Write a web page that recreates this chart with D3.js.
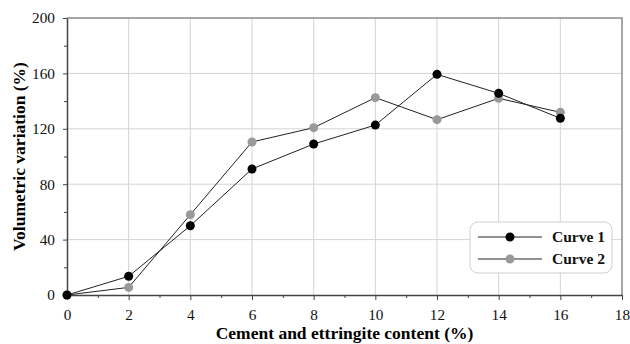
<!DOCTYPE html>
<html>
<head>
<meta charset="utf-8">
<script src="https://cdn.jsdelivr.net/npm/d3@7"></script>
<style>
  body { margin: 0; background: #fff; }
  svg { display: block; }
</style>
</head>
<body>
<svg id="chart" width="630" height="344"></svg>
<script>
let content = [0, 2, 4, 6, 8, 10, 12, 14, 16]
let curve1 = [0, 13.5, 50, 91, 109, 122.7, 159.3, 145.6, 127.6]
let curve2 = [0, 5.5, 58, 110.5, 120.8, 142.5, 126.6, 142, 131.9]
let seriesNames = ["Curve 1", "Curve 2"]
let xTicks = [0, 2, 4, 6, 8, 10, 12, 14, 16, 18]
let yTicks = [0, 40, 80, 120, 160, 200]

let marginLeft = 67, marginRight = 8, marginTop = 18, marginBottom = 49
let width = 630, height = 344
let FONT = "Liberation Serif"

let svg = d3.select("#chart")
let x = d3.scaleLinear([0, 18], [marginLeft, width - marginRight])
let y = d3.scaleLinear([0, 200], [height - marginBottom, marginTop])

// grid
let grid = svg.append("g").attr("stroke", "#d4d4d4").attr("stroke-width", 1)
grid.selectAll(".gx").data(xTicks.slice(1, -1)).join("line")
    .attr("x1", d => x(d)).attr("x2", d => x(d))
    .attr("y1", y(0)).attr("y2", y(200))
grid.selectAll(".gy").data(yTicks.slice(1, -1)).join("line")
    .attr("x1", x(0)).attr("x2", x(18))
    .attr("y1", d => y(d)).attr("y2", d => y(d))

// top / right frame
svg.append("path")
    .attr("d", `M${x(0)},${y(200)}H${x(18)}V${y(0)}`)
    .attr("fill", "none").attr("stroke", "#8a8a8a").attr("stroke-width", 1.5)

// minor ticks
let minorX = d3.range(1, 18, 2), minorY = d3.range(20, 200, 40)
svg.append("g").attr("transform", `translate(0,${y(0)})`)
    .call(d3.axisBottom(x).tickValues(minorX).tickSize(3).tickFormat(""))
    .call(g => g.select(".domain").remove())
    .selectAll("line").attr("stroke", "#444")
svg.append("g").attr("transform", `translate(${x(0)},0)`)
    .call(d3.axisLeft(y).tickValues(minorY).tickSize(3).tickFormat(""))
    .call(g => g.select(".domain").remove())
    .selectAll("line").attr("stroke", "#444")

// axes
let ax = svg.append("g").attr("transform", `translate(0,${y(0)})`)
    .call(d3.axisBottom(x).tickValues(xTicks).tickSizeInner(5).tickSizeOuter(0).tickPadding(9))
let ay = svg.append("g").attr("transform", `translate(${x(0)},0)`)
    .call(d3.axisLeft(y).tickValues(yTicks).tickSizeInner(4).tickSizeOuter(0).tickPadding(8))
for (let a of [ax, ay]) {
    a.attr("font-family", FONT).attr("font-size", 15.3)
    a.select(".domain").attr("stroke", "#444").attr("stroke-width", 1.5)
    a.selectAll("line").attr("stroke", "#444")
    a.selectAll("text").attr("fill", "#111").attr("font-family", FONT)
}

// axis titles
svg.append("text")
    .attr("x", (x(0) + x(18)) / 2).attr("y", 339)
    .attr("font-family", FONT)
    .attr("text-anchor", "middle").attr("font-weight", "bold").attr("font-size", 17.5)
    .text("Cement and ettringite content (%)")
svg.append("text")
    .attr("transform", `translate(25,${(y(0) + y(200)) / 2}) rotate(-90)`)
    .attr("font-family", FONT)
    .attr("text-anchor", "middle").attr("font-weight", "bold").attr("font-size", 17.5)
    .text("Volumetric variation (%)")

// series
let colors = ["#000000", "#999999"]
let line = d3.line().x((d, i) => x(content[i])).y(d => y(d))
// curve 2 first so curve 1 sits on top
;[curve2, curve1].forEach((vals, k) => {
    let c = k === 0 ? colors[1] : colors[0]
    let g = svg.append("g")
    g.append("path").attr("d", line(vals))
        .attr("fill", "none").attr("stroke", "#222").attr("stroke-width", 1)
    g.selectAll("circle").data(vals).join("circle")
        .attr("cx", (d, i) => x(content[i])).attr("cy", d => y(d))
        .attr("r", 4.5).attr("fill", c)
})

// legend
let lg = svg.append("g").attr("transform", "translate(470,222)")
lg.append("rect").attr("width", 142).attr("height", 51).attr("rx", 8)
    .attr("fill", "#fff").attr("stroke", "#cfcfcf").attr("stroke-width", 1)
seriesNames.forEach((name, i) => {
    let row = lg.append("g").attr("transform", `translate(0,${15 + i * 22})`)
    row.append("line").attr("x1", 8).attr("x2", 72)
        .attr("stroke", "#222").attr("stroke-width", 1)
    row.append("circle").attr("cx", 40).attr("r", 4.5).attr("fill", colors[i])
    row.append("text").attr("x", 82).attr("dy", "0.35em")
        .attr("font-family", FONT)
        .attr("font-weight", "bold").attr("font-size", 15.5).attr("fill", "#111")
        .text(name)
})
</script>
</body>
</html>
